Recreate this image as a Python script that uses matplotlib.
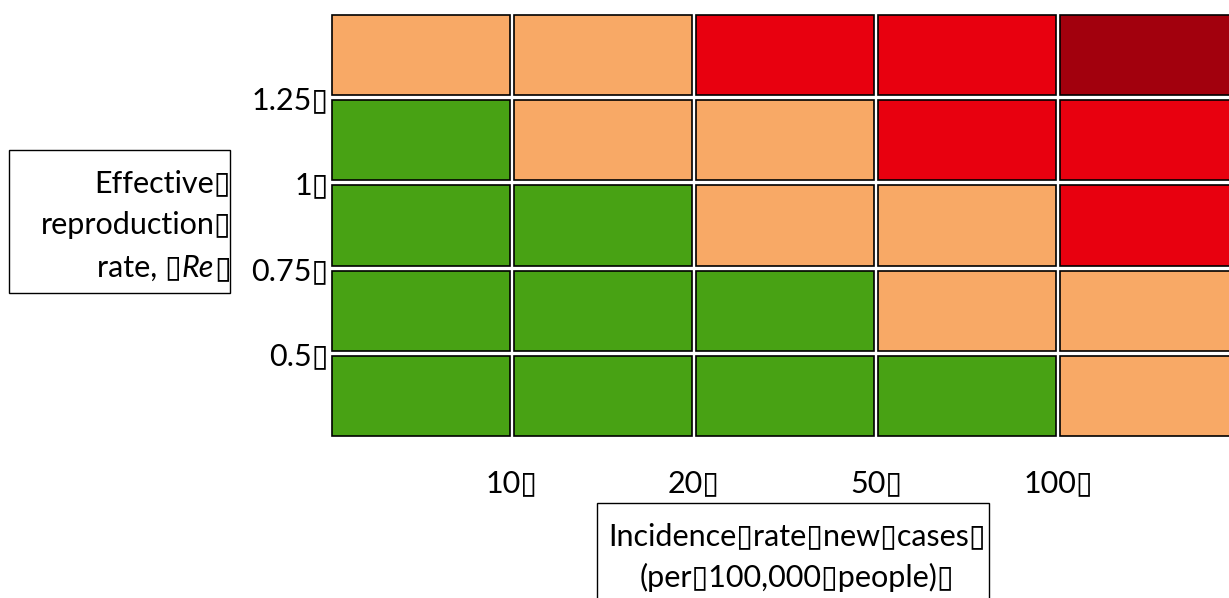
import numpy as np
import matplotlib.pyplot as plt
from matplotlib.patches import Rectangle

plt.rcParams['font.family'] = ['Lato', 'DejaVu Sans']

# 风险等级：0=绿, 1=橙, 2=红, 3=深红；行从下(Re<0.5)到上(Re>1.25)
risk_levels = [
    [0, 0, 0, 0, 1],
    [0, 0, 0, 1, 1],
    [0, 0, 1, 1, 2],
    [0, 1, 1, 2, 2],
    [1, 1, 2, 2, 3],
]
level_colors = ['#48a214', '#f8a966', '#e8000f', '#a2000d']
x_tick_labels = ['10', '20', '50', '100']
y_tick_labels = ['0.5', '0.75', '1', '1.25']
TOFU = '\u25af'

W, H = 1229, 598
fig = plt.figure(figsize=(W / 100, H / 100), dpi=100)


def fx(x):
    return x / W


def fy(y):
    return 1 - y / H


# 坐标轴区域（按像素换算）
ax = fig.add_axes([fx(330), fy(439), (1240 - 330) / W, (439 - 12) / H])
grid = np.array(risk_levels)
n_rows, n_cols = grid.shape
gx, gy = 0.022, 0.06
for r in range(n_rows):
    for c in range(n_cols):
        ax.add_patch(Rectangle((c + gx / 2, r + gy / 2), 1 - gx, 1 - gy,
                               facecolor=level_colors[grid[r, c]],
                               edgecolor='black', linewidth=1.2))
ax.set_xlim(0, n_cols)
ax.set_ylim(0, n_rows)
for s in ax.spines.values():
    s.set_visible(False)

FS = 22
ax.set_xticks(np.arange(1, n_cols))
ax.set_xticklabels([t + TOFU for t in x_tick_labels], fontsize=FS)
ax.set_yticks(np.arange(1, n_rows))
ax.set_yticklabels([t + TOFU for t in y_tick_labels], fontsize=FS)
ax.tick_params(axis='x', length=0, pad=22)
ax.tick_params(axis='y', length=0, pad=1)

# y轴标题框
fig.add_artist(Rectangle((fx(9), fy(293)), (230 - 9) / W, (293 - 150) / H,
                         transform=fig.transFigure, fill=False,
                         edgecolor='black', linewidth=1.0))
fig.text(fx(231), fy(183), 'Effective' + TOFU, ha='right', va='center', fontsize=FS)
fig.text(fx(231), fy(225), 'reproduction' + TOFU, ha='right', va='center', fontsize=FS)
# 第三行：Re 用斜体，逐段向左拼接
t_end = fig.text(fx(231), fy(268), TOFU, ha='right', va='center', fontsize=FS)
t_re = ax.annotate('Re', xy=(0, 0), xycoords=t_end, ha='right', va='bottom',
                   fontsize=FS, style='italic', annotation_clip=False)
ax.annotate('rate, ' + TOFU, xy=(0, 0), xycoords=t_re, ha='right', va='bottom',
            fontsize=FS, annotation_clip=False)

# x轴标题框
fig.add_artist(Rectangle((fx(597), fy(610)), (989 - 597) / W, (610 - 503) / H,
                         transform=fig.transFigure, fill=False,
                         edgecolor='black', linewidth=1.0))
fig.text(fx(797), fy(557), 'Incidence' + TOFU + 'rate' + TOFU + 'new' + TOFU +
         'cases' + TOFU + '\n(per' + TOFU + '100,000' + TOFU + 'people)' + TOFU,
         ha='center', va='center', fontsize=FS, linespacing=1.55)

fig.savefig('out.png', dpi=100)
